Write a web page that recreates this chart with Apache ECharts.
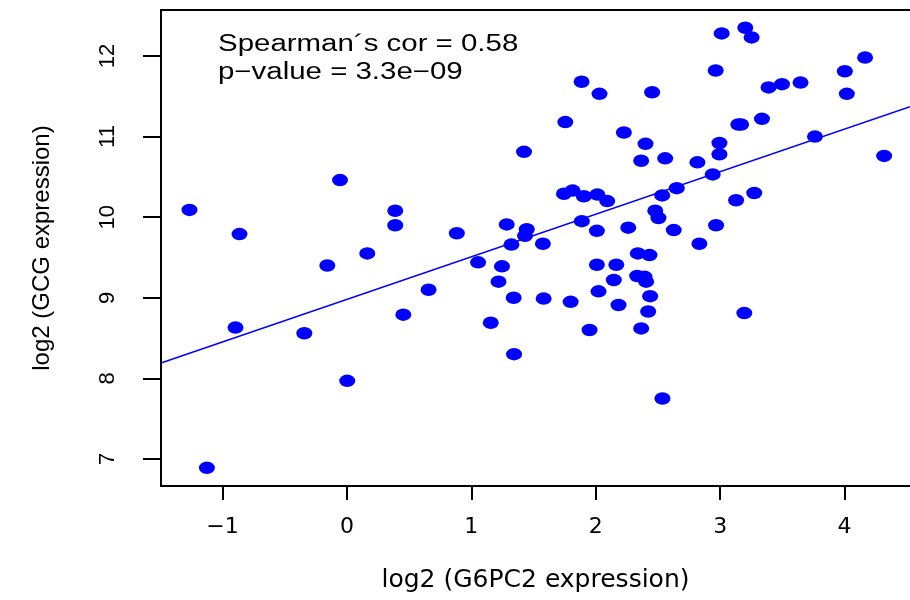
<!DOCTYPE html>
<html>
<head>
<meta charset="utf-8">
<script src="https://cdn.jsdelivr.net/npm/echarts@6/dist/echarts.min.js"></script>
<style>html,body{margin:0;padding:0;background:#fff}#chart{width:910px;height:600px}</style>
</head>
<body>
<div id="chart"></div>
<script>
// log2 (G6PC2 expression)
var g6pc2 = [-1.266,-0.864,-0.896,-1.126,-0.343,-0.158,-0.056,0.002,0.163,0.388,
  0.388,0.453,0.656,0.883,1.054,1.156,1.218,1.246,1.284,1.322,
  1.340,1.343,1.423,1.445,1.431,1.575,1.581,1.755,1.744,1.814,
  1.798,1.886,1.888,1.904,1.950,2.013,2.030,2.009,2.009,2.022,
  2.092,2.165,2.145,2.183,2.226,2.261,2.338,2.365,2.333,2.365,
  2.400,2.392,2.432,2.453,2.405,2.437,2.421,2.478,2.504,2.536,
  2.534,2.558,2.627,2.651,2.817,2.833,2.940,2.964,2.967,2.994,
  2.994,3.012,3.146,3.168,3.128,3.194,3.202,3.253,3.274,3.336,
  3.389,3.497,3.646,3.762,4.002,4.018,4.165,4.318];
// log2 (GCG expression)
var gcg = [10.09,9.79,8.63,6.89,8.56,9.40,10.46,7.97,9.55,10.08,
  9.90,8.79,9.10,9.80,9.44,8.69,9.20,9.39,9.91,9.66,
  9.00,8.30,10.81,9.85,9.77,9.67,8.99,11.18,10.29,10.33,
  8.95,11.68,9.95,10.26,8.60,10.28,11.53,9.83,9.41,9.08,
  10.20,9.41,9.22,8.91,11.05,9.87,9.55,10.70,9.27,8.62,
  10.91,9.26,9.53,11.55,9.20,9.02,8.83,10.08,9.99,7.75,
  10.27,10.73,9.84,10.36,10.68,9.67,10.53,11.82,9.90,10.78,
  10.92,12.28,11.15,11.15,10.21,8.81,12.35,12.23,10.30,11.22,
  11.61,11.65,11.67,11.00,11.81,11.53,11.98,10.76];
var xTicks = [-1, 0, 1, 2, 3, 4];
var yTicks = [7, 8, 9, 10, 11, 12];
var fitIntercept = 8.98;
var fitSlope = 0.528;
var corText = 'Spearman\u00B4s cor = 0.58';
var pText = 'p\u2212value = 3.3e\u221209';

var X_MIN = -1.495, X_MAX = 4.526, Y_MIN = 6.665, Y_MAX = 12.57;

var points = g6pc2.map(function (x, i) { return [x, gcg[i]]; });
var fitLine = [X_MIN, X_MAX].map(function (x) { return [x, fitIntercept + fitSlope * x]; });

var chart = echarts.init(document.getElementById('chart'), null, {renderer: 'canvas'});
chart.setOption({
  animation: false,
  backgroundColor: '#ffffff',
  grid: {left: 161, top: 10, right: 0, bottom: 114, containLabel: false},
  xAxis: [{
    type: 'value', min: X_MIN, max: X_MAX, position: 'bottom',
    splitLine: {show: false},
    axisLine: {show: true, onZero: false, lineStyle: {color: '#000', width: 2}},
    axisTick: {show: true, length: 14, customValues: xTicks, lineStyle: {color: '#000', width: 2}},
    axisLabel: {customValues: xTicks, margin: 30, fontSize: 22, fontFamily: 'DejaVu Sans', color: '#000',
      formatter: function (v) { return v < 0 ? '\u2212' + Math.abs(v) : String(v); }},
    name: 'log2 (G6PC2 expression)', nameLocation: 'middle', nameGap: 82,
    nameTextStyle: {fontSize: 25, fontFamily: 'DejaVu Sans', color: '#000'}
  }, {
    type: 'value', min: X_MIN, max: X_MAX, position: 'top',
    splitLine: {show: false},
    axisLine: {show: true, onZero: false, lineStyle: {color: '#000', width: 2}},
    axisTick: {show: false}, axisLabel: {show: false}
  }],
  yAxis: {
    type: 'value', min: Y_MIN, max: Y_MAX,
    splitLine: {show: false},
    axisLine: {show: true, onZero: false, lineStyle: {color: '#000', width: 2}},
    axisTick: {show: true, length: 18, customValues: yTicks, lineStyle: {color: '#000', width: 2}},
    axisLabel: {customValues: yTicks, rotate: 90, margin: 42, fontSize: 22, fontFamily: 'Liberation Sans', color: '#000'},
    name: 'log2 (GCG expression)', nameLocation: 'middle', nameGap: 107, nameRotate: 90,
    nameTextStyle: {fontSize: 24, fontFamily: 'Liberation Sans', color: '#000'}
  },
  graphic: [
    {type: 'text', x: 218, y: 45, scaleX: 1.28, silent: true,
      style: {text: corText, x: 0, y: 0, fontSize: 23, fontFamily: 'Liberation Sans', fill: '#000', verticalAlign: 'middle', align: 'left'}},
    {type: 'text', x: 218, y: 73, scaleX: 1.28, silent: true,
      style: {text: pText, x: 0, y: 0, fontSize: 23, fontFamily: 'Liberation Sans', fill: '#000', verticalAlign: 'middle', align: 'left'}}
  ],
  series: [{
    type: 'scatter', data: points, symbol: 'circle', symbolSize: [16, 12.5],
    itemStyle: {color: '#0000ff', opacity: 1}, silent: true, z: 2
  }, {
    type: 'line', data: fitLine, symbol: 'none', showSymbol: false,
    lineStyle: {color: '#0000ff', width: 1.5}, silent: true, z: 3
  }]
});
</script>
</body>
</html>
